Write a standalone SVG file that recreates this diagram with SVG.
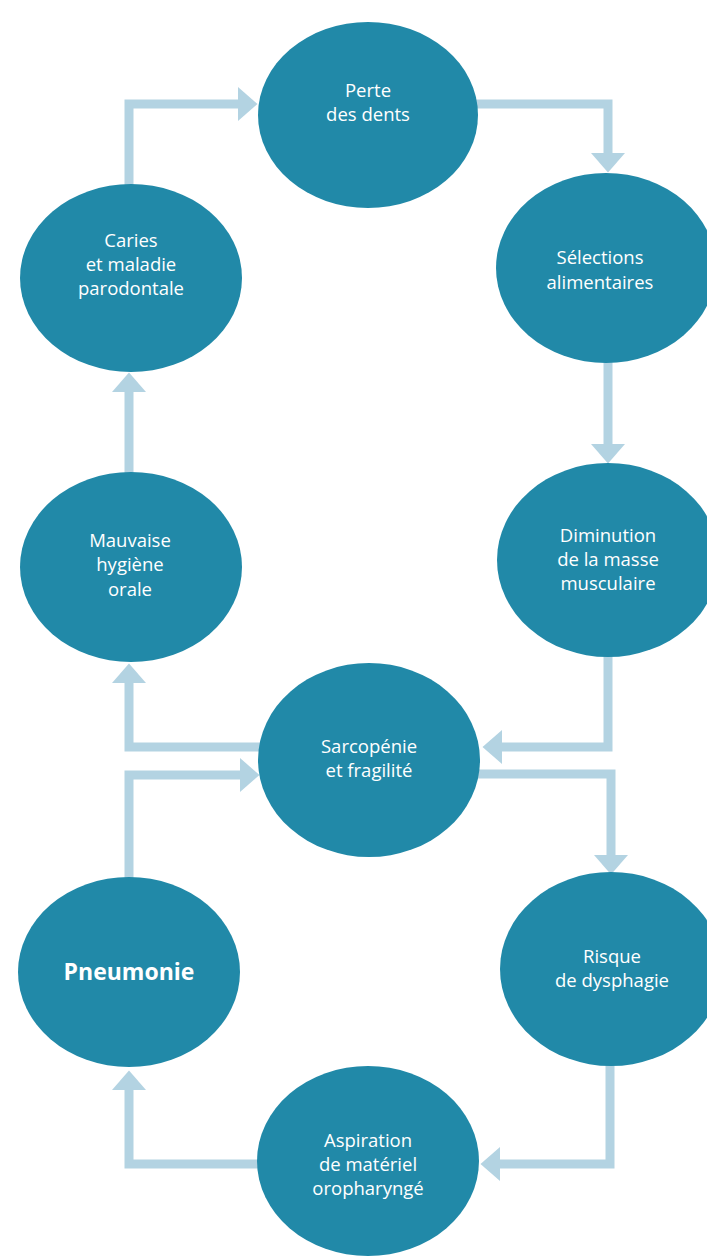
<svg xmlns="http://www.w3.org/2000/svg" width="707" height="1258" viewBox="0 0 707 1258">
<style>
.node{fill:#2189a8}
.lbl{fill:#ffffff;font-family:"Open Sans","DejaVu Sans",sans-serif;font-size:18.5px;text-anchor:middle}
.big{font-size:23px;font-weight:bold}
.conn{fill:none;stroke:#b3d3e2;stroke-width:9;stroke-linejoin:miter}
</style>
<defs>
<marker id="ah" markerUnits="userSpaceOnUse" markerWidth="20" markerHeight="34" refX="0" refY="17" orient="auto" viewBox="0 0 20 34">
<path d="M0,0 L19.5,17 L0,34 z" fill="#b3d3e2"/>
</marker>
</defs>
<rect width="707" height="1258" fill="#ffffff"/>
<g id="connectors">
<path class="conn" d="M129,190 V104 H238" marker-end="url(#ah)"/>
<path class="conn" d="M470,104 H608 V153" marker-end="url(#ah)"/>
<path class="conn" d="M608,360 V444" marker-end="url(#ah)"/>
<path class="conn" d="M608,650 V747 H502" marker-end="url(#ah)"/>
<path class="conn" d="M265,747 H129 V683" marker-end="url(#ah)"/>
<path class="conn" d="M129,478 V392" marker-end="url(#ah)"/>
<path class="conn" d="M129,880 V775 H240" marker-end="url(#ah)"/>
<path class="conn" d="M472,774 H611 V855" marker-end="url(#ah)"/>
<path class="conn" d="M610,1060 V1164 H500" marker-end="url(#ah)"/>
<path class="conn" d="M265,1164 H129 V1090" marker-end="url(#ah)"/>
</g>
<g id="n-perte">
<ellipse class="node" cx="368" cy="115" rx="110" ry="93"/>
<text class="lbl" x="368" y="97">Perte</text>
<text class="lbl" x="368" y="121">des dents</text>
</g>
<g id="n-caries">
<ellipse class="node" cx="131" cy="278" rx="111" ry="94"/>
<text class="lbl" x="131" y="247">Caries</text>
<text class="lbl" x="131" y="271">et maladie</text>
<text class="lbl" x="131" y="295">parodontale</text>
</g>
<g id="n-selections">
<ellipse class="node" cx="606" cy="268" rx="110" ry="95"/>
<text class="lbl" x="600" y="264">Sélections</text>
<text class="lbl" x="600" y="289">alimentaires</text>
</g>
<g id="n-hygiene">
<ellipse class="node" cx="131" cy="567" rx="111" ry="95"/>
<text class="lbl" x="130" y="547">Mauvaise</text>
<text class="lbl" x="130" y="571">hygiène</text>
<text class="lbl" x="130" y="596">orale</text>
</g>
<g id="n-diminution">
<ellipse class="node" cx="608" cy="560" rx="111" ry="97"/>
<text class="lbl" x="608" y="542">Diminution</text>
<text class="lbl" x="608" y="566">de la masse</text>
<text class="lbl" x="608" y="590">musculaire</text>
</g>
<g id="n-sarcopenie">
<ellipse class="node" cx="369" cy="760" rx="111" ry="97"/>
<text class="lbl" x="369" y="753">Sarcopénie</text>
<text class="lbl" x="369" y="777">et fragilité</text>
</g>
<g id="n-pneumonie">
<ellipse class="node" cx="129" cy="972" rx="111" ry="95"/>
<text class="lbl big" x="129" y="980">Pneumonie</text>
</g>
<g id="n-dysphagie">
<ellipse class="node" cx="611" cy="969" rx="111" ry="97"/>
<text class="lbl" x="612" y="963">Risque</text>
<text class="lbl" x="612" y="987">de dysphagie</text>
</g>
<g id="n-aspiration">
<ellipse class="node" cx="368" cy="1161" rx="111" ry="95"/>
<text class="lbl" x="368" y="1147">Aspiration</text>
<text class="lbl" x="368" y="1171">de matériel</text>
<text class="lbl" x="368" y="1195">oropharyngé</text>
</g>
</svg>
